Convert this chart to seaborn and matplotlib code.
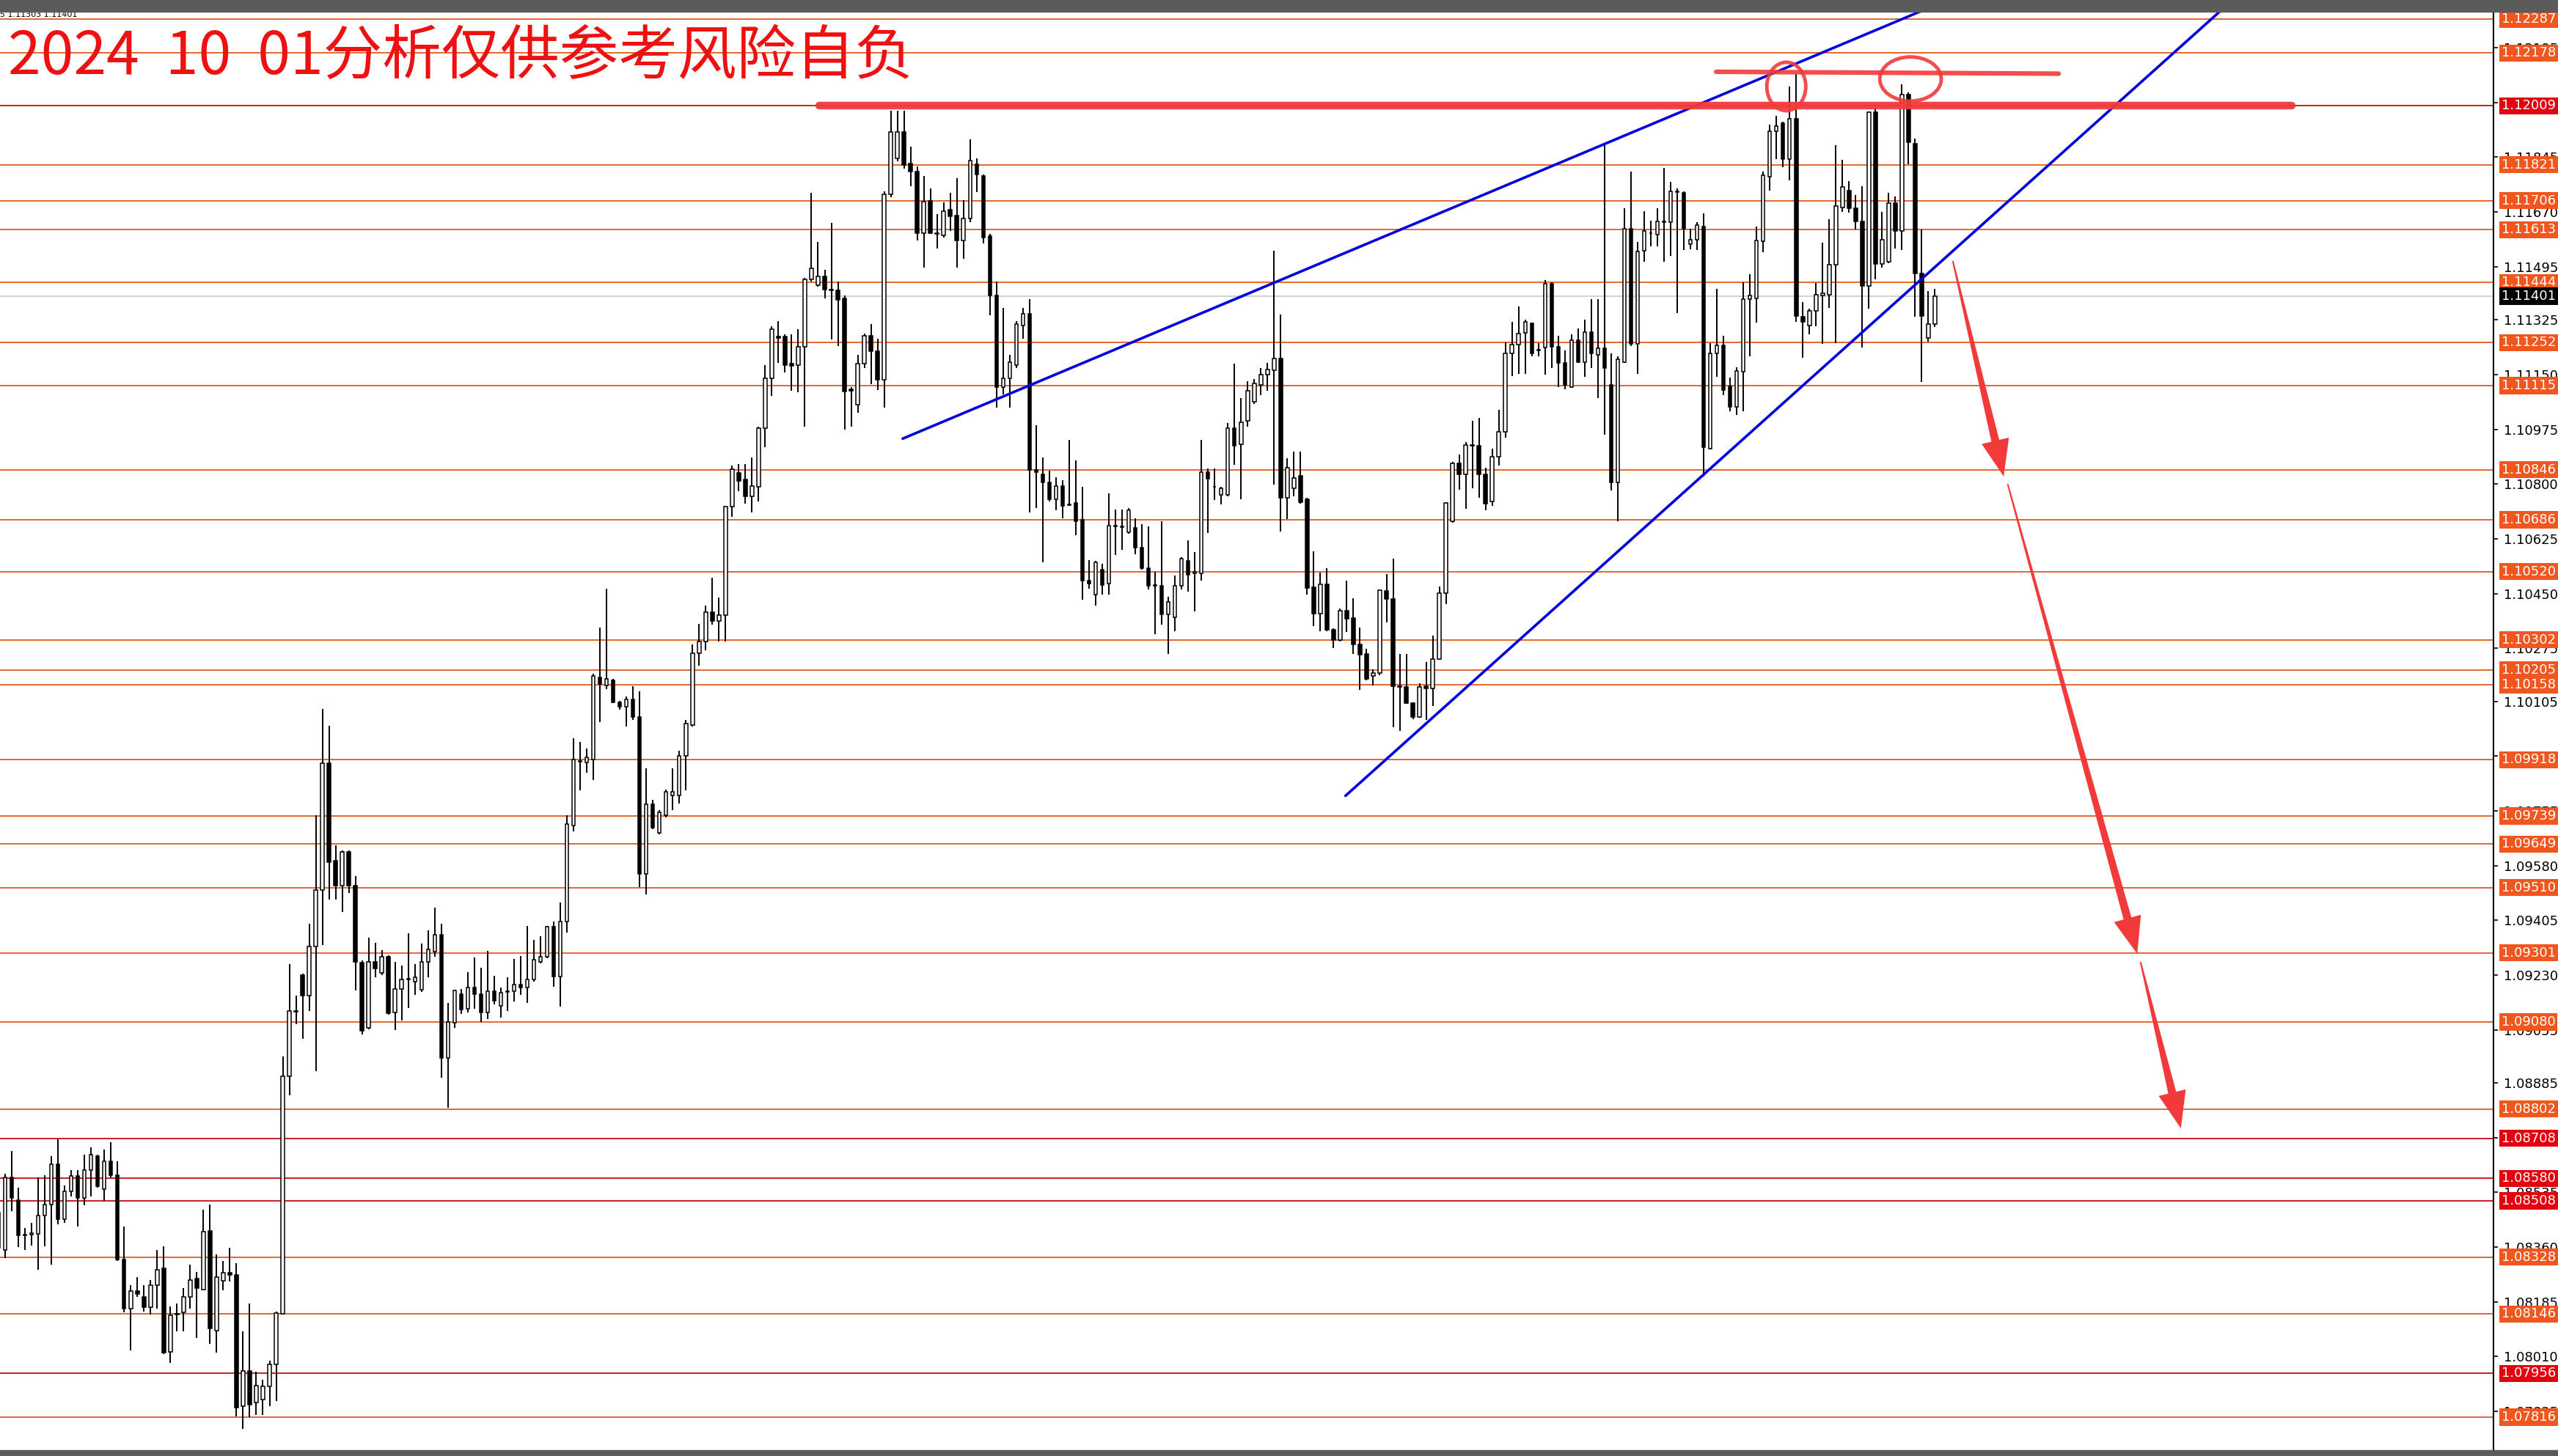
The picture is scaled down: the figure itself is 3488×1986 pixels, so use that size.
"""EURUSD H4 chart with hand-drawn analysis, MT4 style"""

import numpy as np
import matplotlib
matplotlib.use('Agg')
import matplotlib.pyplot as plt
from matplotlib.patches import Polygon, Ellipse, Rectangle
from matplotlib.transforms import blended_transform_factory
import seaborn as sns

# ---- candle data (H4 bars, oldest first) ----
opens = [
    1.08470, 1.08352, 1.08583, 1.08510, 1.08400, 1.08400, 1.08402, 1.08462, 1.08497, 1.08626,
    1.08449, 1.08539, 1.08587, 1.08518, 1.08607, 1.08650, 1.08546, 1.08634, 1.08591, 1.08321,
    1.08163, 1.08219, 1.08200, 1.08168, 1.08239, 1.08292, 1.08026, 1.08145, 1.08152, 1.08200,
    1.08260, 1.08225, 1.08413, 1.08094, 1.08252, 1.08279, 1.08271, 1.07851, 1.07965, 1.07864,
    1.07873, 1.07916, 1.07986, 1.08147, 1.08906, 1.09113, 1.09229, 1.09164, 1.09321, 1.09503,
    1.09907, 1.09595, 1.09515, 1.09624, 1.09515, 1.09269, 1.09060, 1.09273, 1.09237, 1.09289,
    1.09111, 1.09185, 1.09216, 1.09210, 1.09182, 1.09273, 1.09304, 1.09359, 1.08966, 1.09078,
    1.09169, 1.09121, 1.09189, 1.09169, 1.09111, 1.09179, 1.09132, 1.09176, 1.09179, 1.09200,
    1.09189, 1.09216, 1.09273, 1.09289, 1.09385, 1.09226, 1.09400, 1.09709, 1.09914, 1.09909,
    1.09919, 1.10182, 1.10156, 1.10172, 1.10103, 1.10087, 1.10112, 1.10054, 1.09553, 1.09775,
    1.09684, 1.09742, 1.09804, 1.09804, 1.09931, 1.10029, 1.10260, 1.10296, 1.10391, 1.10363,
    1.10380, 1.10728, 1.10835, 1.10814, 1.10761, 1.10791, 1.10978, 1.11139, 1.11271, 1.11271,
    1.11185, 1.11180, 1.11238, 1.11455, 1.11435, 1.11463, 1.11422, 1.11419, 1.11394, 1.11103,
    1.11053, 1.11186, 1.11273, 1.11225, 1.11133, 1.11726, 1.11841, 1.11926, 1.11824, 1.11799,
    1.11603, 1.11705, 1.11603, 1.11596, 1.11676, 1.11659, 1.11578, 1.11650, 1.11822, 1.11786,
    1.11593, 1.11403, 1.11110, 1.11138, 1.11180, 1.11307, 1.11345, 1.10846, 1.10832, 1.10805,
    1.10752, 1.10793, 1.10735, 1.10739, 1.10685, 1.10490, 1.10447, 1.10526, 1.10481, 1.10668,
    1.10665, 1.10646, 1.10659, 1.10596, 1.10532, 1.10475, 1.10475, 1.10383, 1.10373, 1.10475,
    1.10554, 1.10515, 1.10515, 1.10837, 1.10792, 1.10765, 1.10765, 1.10979, 1.10926, 1.11002,
    1.11062, 1.11118, 1.11150, 1.11164, 1.11202, 1.10757, 1.10787, 1.10827, 1.10751, 1.10470,
    1.10386, 1.10480, 1.10333, 1.10300, 1.10396, 1.10372, 1.10288, 1.10257, 1.10186, 1.10195,
    1.10458, 1.10432, 1.10153, 1.10150, 1.10099, 1.10054, 1.10153, 1.10147, 1.10241, 1.10452,
    1.10680, 1.10865, 1.10831, 1.10925, 1.10922, 1.10831, 1.10745, 1.10886, 1.10967, 1.11218,
    1.11245, 1.11284, 1.11313, 1.11230, 1.11236, 1.11441, 1.11238, 1.11188, 1.11110, 1.11260,
    1.11190, 1.11286, 1.11212, 1.11233, 1.11118, 1.10805, 1.11190, 1.11616, 1.11248, 1.11547,
    1.11601, 1.11597, 1.11640, 1.11637, 1.11735, 1.11730, 1.11567, 1.11581, 1.11623, 1.10913,
    1.11217, 1.11243, 1.11112, 1.11046, 1.11159, 1.11392, 1.11394, 1.11577, 1.11783, 1.11927,
    1.11953, 1.11840, 1.11968, 1.11336, 1.11307, 1.11353, 1.11404, 1.11406, 1.11501, 1.11684,
    1.11739, 1.11681, 1.11639, 1.11433, 1.11989, 1.11503, 1.11511, 1.11698, 1.11608, 1.12046,
    1.11888, 1.11474, 1.11266, 1.11311,
]
highs = [
    1.08486, 1.08594, 1.08668, 1.08550, 1.08421, 1.08437, 1.08583, 1.08591, 1.08650, 1.08704,
    1.08558, 1.08607, 1.08607, 1.08655, 1.08680, 1.08655, 1.08671, 1.08696, 1.08634, 1.08426,
    1.08239, 1.08265, 1.08239, 1.08255, 1.08352, 1.08362, 1.08171, 1.08179, 1.08228, 1.08303,
    1.08281, 1.08481, 1.08497, 1.08336, 1.08316, 1.08357, 1.08309, 1.08091, 1.08179, 1.07961,
    1.07937, 1.07997, 1.08155, 1.08970, 1.09265, 1.09164, 1.09234, 1.09395, 1.09741, 1.10080,
    1.10028, 1.09644, 1.09628, 1.09628, 1.09547, 1.09277, 1.09350, 1.09334, 1.09310, 1.09293,
    1.09273, 1.09261, 1.09363, 1.09265, 1.09331, 1.09372, 1.09445, 1.09393, 1.09140, 1.09183,
    1.09185, 1.09239, 1.09286, 1.09253, 1.09308, 1.09228, 1.09191, 1.09222, 1.09281, 1.09291,
    1.09386, 1.09343, 1.09355, 1.09386, 1.09402, 1.09461, 1.09742, 1.09988, 1.09975, 1.09955,
    1.10194, 1.10342, 1.10465, 1.10177, 1.10107, 1.10120, 1.10153, 1.10136, 1.09890, 1.09791,
    1.09758, 1.09824, 1.09890, 1.09947, 1.10046, 1.10288, 1.10353, 1.10411, 1.10501, 1.10436,
    1.10731, 1.10860, 1.10863, 1.10863, 1.10884, 1.10983, 1.11180, 1.11304, 1.11320, 1.11279,
    1.11279, 1.11295, 1.11460, 1.11731, 1.11575, 1.11484, 1.11636, 1.11448, 1.11402, 1.11110,
    1.11212, 1.11282, 1.11311, 1.11265, 1.11735, 1.11993, 1.11993, 1.11993, 1.11879, 1.11815,
    1.11784, 1.11746, 1.11663, 1.11701, 1.11730, 1.11777, 1.11707, 1.11901, 1.11841, 1.11790,
    1.11599, 1.11447, 1.11364, 1.11212, 1.11320, 1.11362, 1.11390, 1.10989, 1.10884, 1.10843,
    1.10821, 1.10812, 1.10942, 1.10875, 1.10790, 1.10557, 1.10554, 1.10545, 1.10770, 1.10719,
    1.10719, 1.10723, 1.10691, 1.10672, 1.10665, 1.10519, 1.10681, 1.10439, 1.10507, 1.10566,
    1.10621, 1.10583, 1.10942, 1.10850, 1.10850, 1.10792, 1.10996, 1.11186, 1.11075, 1.11128,
    1.11136, 1.11170, 1.11188, 1.11547, 1.11341, 1.10883, 1.10903, 1.10903, 1.10755, 1.10584,
    1.10516, 1.10532, 1.10339, 1.10401, 1.10492, 1.10434, 1.10341, 1.10273, 1.10207, 1.10464,
    1.10512, 1.10562, 1.10257, 1.10257, 1.10102, 1.10162, 1.10231, 1.10315, 1.10473, 1.10743,
    1.10871, 1.10895, 1.10934, 1.11002, 1.11011, 1.10851, 1.10913, 1.11038, 1.11254, 1.11319,
    1.11367, 1.11325, 1.11317, 1.11250, 1.11453, 1.11445, 1.11274, 1.11226, 1.11278, 1.11298,
    1.11325, 1.11391, 1.11391, 1.11885, 1.11218, 1.11209, 1.11681, 1.11800, 1.11573, 1.11672,
    1.11642, 1.11681, 1.11811, 1.11766, 1.11744, 1.11735, 1.11616, 1.11637, 1.11665, 1.11250,
    1.11423, 1.11275, 1.11141, 1.11172, 1.11445, 1.11472, 1.11623, 1.11798, 1.11949, 1.11978,
    1.11958, 1.12070, 1.12110, 1.11382, 1.11360, 1.11443, 1.11571, 1.11647, 1.11883, 1.11837,
    1.11769, 1.11725, 1.11752, 1.11992, 1.12017, 1.11669, 1.11730, 1.11720, 1.12077, 1.12051,
    1.11905, 1.11613, 1.11416, 1.11423,
]
lows = [
    1.08349, 1.08324, 1.08474, 1.08360, 1.08352, 1.08365, 1.08287, 1.08363, 1.08305, 1.08434,
    1.08437, 1.08523, 1.08426, 1.08494, 1.08523, 1.08550, 1.08507, 1.08583, 1.08316, 1.08151,
    1.08029, 1.08200, 1.08155, 1.08144, 1.08163, 1.08018, 1.07989, 1.08091, 1.08091, 1.08163,
    1.08070, 1.08223, 1.08050, 1.08023, 1.08223, 1.08249, 1.07819, 1.07780, 1.07816, 1.07823,
    1.07824, 1.07852, 1.07868, 1.08144, 1.08846, 1.09072, 1.09027, 1.09116, 1.08922, 1.09326,
    1.09471, 1.09471, 1.09431, 1.09492, 1.09180, 1.09040, 1.09057, 1.09224, 1.09229, 1.09104,
    1.09055, 1.09084, 1.09124, 1.09167, 1.09177, 1.09224, 1.09289, 1.08902, 1.08806, 1.09062,
    1.09105, 1.09111, 1.09121, 1.09080, 1.09089, 1.09136, 1.09093, 1.09114, 1.09146, 1.09167,
    1.09140, 1.09208, 1.09267, 1.09283, 1.09192, 1.09130, 1.09367, 1.09689, 1.09821, 1.09876,
    1.09854, 1.10038, 1.10145, 1.10100, 1.10079, 1.10024, 1.10046, 1.09512, 1.09487, 1.09696,
    1.09679, 1.09734, 1.09758, 1.09778, 1.09821, 1.10024, 1.10218, 1.10268, 1.10350, 1.10297,
    1.10296, 1.10695, 1.10777, 1.10736, 1.10708, 1.10745, 1.10917, 1.11082, 1.11188, 1.11156,
    1.11098, 1.11093, 1.10983, 1.11448, 1.11432, 1.11394, 1.11262, 1.11241, 1.10975, 1.10983,
    1.11028, 1.11171, 1.11120, 1.11100, 1.11044, 1.11718, 1.11832, 1.11809, 1.11752, 1.11578,
    1.11491, 1.11599, 1.11552, 1.11587, 1.11608, 1.11491, 1.11519, 1.11637, 1.11733, 1.11570,
    1.11339, 1.11044, 1.11087, 1.11044, 1.11171, 1.11265, 1.10710, 1.10723, 1.10549, 1.10744,
    1.10716, 1.10691, 1.10729, 1.10637, 1.10430, 1.10465, 1.10411, 1.10447, 1.10447, 1.10574,
    1.10589, 1.10640, 1.10576, 1.10526, 1.10462, 1.10320, 1.10350, 1.10256, 1.10329, 1.10462,
    1.10456, 1.10392, 1.10490, 1.10643, 1.10748, 1.10735, 1.10761, 1.10862, 1.10752, 1.10983,
    1.11056, 1.11083, 1.11098, 1.10799, 1.10647, 1.10688, 1.10760, 1.10736, 1.10446, 1.10345,
    1.10329, 1.10329, 1.10276, 1.10297, 1.10327, 1.10257, 1.10141, 1.10173, 1.10157, 1.10189,
    1.10357, 1.10022, 1.10010, 1.10097, 1.10049, 1.10052, 1.10046, 1.10090, 1.10237, 1.10416,
    1.10676, 1.10781, 1.10721, 1.10787, 1.10757, 1.10715, 1.10731, 1.10859, 1.10949, 1.11146,
    1.11152, 1.11152, 1.11209, 1.11209, 1.11150, 1.11170, 1.11110, 1.11102, 1.11107, 1.11188,
    1.11142, 1.11170, 1.11074, 1.10958, 1.10779, 1.10680, 1.11188, 1.11242, 1.11152, 1.11511,
    1.11559, 1.11559, 1.11511, 1.11530, 1.11346, 1.11548, 1.11550, 1.11548, 1.10825, 1.10910,
    1.11143, 1.11083, 1.11032, 1.11020, 1.11032, 1.11209, 1.11316, 1.11540, 1.11739, 1.11840,
    1.11812, 1.11772, 1.11318, 1.11204, 1.11279, 1.11305, 1.11248, 1.11363, 1.11250, 1.11671,
    1.11668, 1.11613, 1.11237, 1.11360, 1.11454, 1.11493, 1.11506, 1.11552, 1.11548, 1.11822,
    1.11336, 1.11127, 1.11256, 1.11302,
]
closes = [
    1.08357, 1.08583, 1.08518, 1.08397, 1.08397, 1.08405, 1.08462, 1.08497, 1.08626, 1.08449,
    1.08539, 1.08587, 1.08518, 1.08607, 1.08655, 1.08555, 1.08634, 1.08591, 1.08321, 1.08163,
    1.08219, 1.08211, 1.08168, 1.08239, 1.08287, 1.08023, 1.08142, 1.08147, 1.08200, 1.08255,
    1.08228, 1.08409, 1.08099, 1.08265, 1.08279, 1.08271, 1.07848, 1.07965, 1.07856, 1.07918,
    1.07916, 1.07986, 1.08150, 1.08906, 1.09116, 1.09116, 1.09164, 1.09321, 1.09503, 1.09907,
    1.09592, 1.09515, 1.09624, 1.09515, 1.09273, 1.09052, 1.09273, 1.09250, 1.09289, 1.09108,
    1.09185, 1.09216, 1.09219, 1.09222, 1.09271, 1.09312, 1.09359, 1.08966, 1.09079, 1.09181,
    1.09119, 1.09189, 1.09169, 1.09111, 1.09179, 1.09148, 1.09174, 1.09178, 1.09200, 1.09191,
    1.09216, 1.09278, 1.09289, 1.09385, 1.09226, 1.09402, 1.09712, 1.09919, 1.09912, 1.09926,
    1.10186, 1.10161, 1.10177, 1.10103, 1.10087, 1.10112, 1.10054, 1.09553, 1.09775, 1.09701,
    1.09750, 1.09816, 1.09816, 1.09931, 1.10034, 1.10260, 1.10296, 1.10391, 1.10363, 1.10380,
    1.10728, 1.10848, 1.10810, 1.10761, 1.10794, 1.10978, 1.11139, 1.11295, 1.11267, 1.11180,
    1.11179, 1.11238, 1.11455, 1.11489, 1.11463, 1.11422, 1.11420, 1.11389, 1.11095, 1.11097,
    1.11186, 1.11273, 1.11225, 1.11133, 1.11726, 1.11926, 1.11926, 1.11819, 1.11799, 1.11603,
    1.11704, 1.11603, 1.11599, 1.11672, 1.11657, 1.11578, 1.11650, 1.11834, 1.11790, 1.11587,
    1.11403, 1.11110, 1.11138, 1.11189, 1.11311, 1.11345, 1.10846, 1.10837, 1.10805, 1.10752,
    1.10793, 1.10729, 1.10733, 1.10681, 1.10490, 1.10481, 1.10549, 1.10477, 1.10668, 1.10665,
    1.10663, 1.10716, 1.10596, 1.10532, 1.10475, 1.10477, 1.10383, 1.10424, 1.10475, 1.10561,
    1.10510, 1.10518, 1.10837, 1.10818, 1.10790, 1.10786, 1.10979, 1.10922, 1.10998, 1.11098,
    1.11122, 1.11150, 1.11166, 1.11202, 1.10757, 1.10853, 1.10819, 1.10743, 1.10468, 1.10386,
    1.10480, 1.10333, 1.10300, 1.10396, 1.10369, 1.10288, 1.10255, 1.10177, 1.10195, 1.10461,
    1.10432, 1.10153, 1.10151, 1.10099, 1.10054, 1.10150, 1.10147, 1.10241, 1.10452, 1.10739,
    1.10865, 1.10831, 1.10925, 1.10923, 1.10831, 1.10736, 1.10886, 1.10967, 1.11218, 1.11245,
    1.11281, 1.11319, 1.11218, 1.11228, 1.11441, 1.11238, 1.11188, 1.11118, 1.11260, 1.11190,
    1.11286, 1.11218, 1.11233, 1.11170, 1.10805, 1.11200, 1.11616, 1.11248, 1.11544, 1.11609,
    1.11603, 1.11640, 1.11637, 1.11735, 1.11733, 1.11616, 1.11581, 1.11628, 1.10917, 1.11217,
    1.11243, 1.11100, 1.11046, 1.11161, 1.11392, 1.11402, 1.11579, 1.11788, 1.11927, 1.11944,
    1.11840, 1.11968, 1.11338, 1.11318, 1.11353, 1.11406, 1.11409, 1.11501, 1.11688, 1.11749,
    1.11681, 1.11639, 1.11433, 1.11989, 1.11503, 1.11581, 1.11698, 1.11608, 1.12046, 1.11892,
    1.11474, 1.11338, 1.11311, 1.11401,
]

# ---- horizontal levels and price scale ----
levels_orange = [1.12287, 1.12178, 1.11821, 1.11706, 1.11613, 1.11444, 1.11252,
                 1.11115, 1.10846, 1.10686, 1.10520, 1.10302, 1.10205, 1.10158,
                 1.09918, 1.09739, 1.09649, 1.09510, 1.09301, 1.09080, 1.08802,
                 1.08328, 1.08146, 1.07816]
levels_red = [1.12009, 1.08708, 1.08580, 1.08508, 1.07956]
current_price = 1.11401
axis_ticks = [1.07835, 1.08010, 1.08185, 1.08360, 1.08535, 1.08710, 1.08885,
              1.09055, 1.09230, 1.09405, 1.09580, 1.09755, 1.09930, 1.10105,
              1.10275, 1.10450, 1.10625, 1.10800, 1.10975, 1.11150, 1.11325,
              1.11495, 1.11670, 1.11845, 1.12020, 1.12195]

# ---- drawings (bar index, price) ----
upper_line_x = [136.8, 299.8]
upper_line_y = [1.10945, 1.12391]
lower_line_x = [203.8, 339.8]
lower_line_y = [1.09803, 1.12381]
resistance_x = [124.2, 347.0]
resistance_y = [1.12009, 1.12009]
top_stroke_x = [259.9, 311.7]
top_stroke_y = [1.12118, 1.12112]
circles = [(270.5, 1.12071, 5.9, 0.00155), (289.3, 1.12095, 9.3, 0.00141)]
arrows = [((295.7, 1.11513), (303.4, 1.10824)),
          ((304.0, 1.10800), (323.6, 1.09298)),
          ((324.1, 1.09272), (330.2, 1.08740))]

title = '2024  10  01分析仅供参考风险自负'

W, H = 3488, 1986
ORANGE_LINE = '#E2682E'
ORANGE_BOX = '#F0561E'
RED_LINE = '#C81E28'
RED_BOX = '#E3000F'
PEN_RED = '#F23A3A'

sns.set_style('white')
plt.rcParams['font.family'] = ['DejaVu Sans', 'Noto Sans CJK SC']

fig = plt.figure(figsize=(W / 100, H / 100), dpi=100)
ax = fig.add_axes([0, 8 / H, 3400 / W, (H - 16 - 8) / H])
ax.set_xlim(0.22, 377.5)
ax.set_ylim(1.07711, 1.12310)

# levels
for p in levels_orange:
    ax.axhline(p, color=ORANGE_LINE, lw=1.4, zorder=1)
for p in levels_red:
    ax.axhline(p, color=RED_LINE, lw=1.4, zorder=1)
ax.axhline(current_price, color='#C8C8C8', lw=1.2, zorder=1)

# candles
o = np.array(opens)
h = np.array(highs)
l = np.array(lows)
c = np.array(closes)
idx = np.arange(len(c))
ax.vlines(idx, l, h, color='black', lw=1.4, zorder=3)
bull = c >= o
ax.bar(idx, np.abs(c - o), bottom=np.minimum(o, c), width=0.5,
       color=np.where(bull, 'white', 'black'), edgecolor='black',
       linewidth=1.1, zorder=4)

# trend lines
sns.lineplot(x=upper_line_x, y=upper_line_y, ax=ax, color='#0000DC', lw=2.6,
             sort=False, estimator=None, zorder=5)
sns.lineplot(x=lower_line_x, y=lower_line_y, ax=ax, color='#0000DC', lw=2.6,
             sort=False, estimator=None, zorder=5)

# hand drawn marks
ax.plot(resistance_x, resistance_y, color=PEN_RED, lw=7.5,
        solid_capstyle='round', alpha=0.95, zorder=6)
ax.plot(top_stroke_x, top_stroke_y, color=PEN_RED, lw=4.5,
        solid_capstyle='round', alpha=0.9, zorder=6)
for cx, cy, cw, ch in circles:
    ax.add_patch(Ellipse((cx, cy), cw, ch, fill=False, ec=PEN_RED, lw=3.5,
                         alpha=0.9, zorder=6, clip_on=False))


def tapered_arrow(start, end, w0=2.0, w1=11.0, head_w=38.0, head_l=50.0):
    '''Tapered pen arrow built in pixel space and mapped back to data'''
    tr = ax.transData
    p0 = tr.transform(start)
    p1 = tr.transform(end)
    d = p1 - p0
    u = d / np.hypot(*d)
    n = np.array([-u[1], u[0]])
    base = p1 - u * head_l
    pts = [p0 + n * w0 / 2, base + n * w1 / 2, base + n * head_w / 2, p1,
           base - n * head_w / 2, base - n * w1 / 2, p0 - n * w0 / 2]
    ax.add_patch(Polygon(tr.inverted().transform(pts), closed=True,
                         fc=PEN_RED, ec='none', zorder=7))


for start, end in arrows:
    tapered_arrow(start, end)

# right price scale
for side in ['left', 'top', 'bottom']:
    ax.spines[side].set_visible(False)
ax.spines['right'].set_color('black')
ax.spines['right'].set_linewidth(1.5)
ax.set_xticks([])
ax.yaxis.tick_right()
ax.set_yticks(axis_ticks)
ax.set_yticklabels([f'{t:.5f}' for t in axis_ticks], fontsize=13)
ax.tick_params(axis='y', length=4, width=1.2, pad=6, colors='black')

lab = blended_transform_factory(ax.transAxes, ax.transData)
label_x = 1 + 11 / 3400
for p in levels_orange:
    ax.text(label_x, p, f'{p:.5f}', transform=lab, color='white', fontsize=13,
            va='center', ha='left', zorder=10,
            bbox=dict(boxstyle='square,pad=0.15', fc=ORANGE_BOX, ec='none'))
for p in levels_red:
    ax.text(label_x, p, f'{p:.5f}', transform=lab, color='white', fontsize=13,
            va='center', ha='left', zorder=10,
            bbox=dict(boxstyle='square,pad=0.15', fc=RED_BOX, ec='none'))
ax.text(label_x, current_price, f'{current_price:.5f}', transform=lab,
        color='white', fontsize=13, va='center', ha='left', zorder=11,
        bbox=dict(boxstyle='square,pad=0.15', fc='black', ec='none'))

# window frame and texts
fig.add_artist(Rectangle((0, 1 - 16 / H), 1, 16 / H, transform=fig.transFigure,
                         color='#5B5B5B', zorder=20))
fig.add_artist(Rectangle((0, 0), 1, 8 / H, transform=fig.transFigure,
                         color='#5B5B5B', zorder=20))
fig.text(0.0, 1 - 20 / H, '5 1.11303 1.11401', fontsize=8, color='black',
         va='center', ha='left')
fig.text(11 / W, 1 - 78 / H, title, color='#EE1111', fontsize=58,
         family=['Noto Sans CJK SC', 'DejaVu Sans'], va='center', ha='left')

fig.savefig('out.png', dpi=100, facecolor='white')
